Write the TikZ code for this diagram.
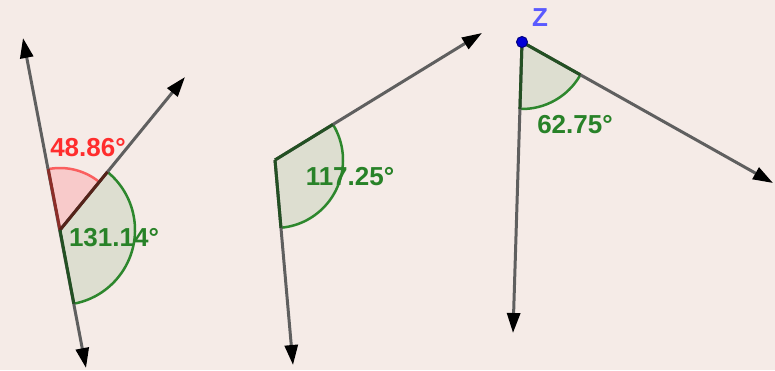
\documentclass[tikz,border=0pt]{standalone}
\usepackage{fontspec}
\setmainfont{Liberation Sans}
\usetikzlibrary{arrows.meta,angles,calc}

\definecolor{paper}{RGB}{245,235,231}
\definecolor{raygray}{RGB}{95,95,95}
\definecolor{anglegreen}{RGB}{45,135,45}
\definecolor{anglefill}{RGB}{221,222,208}
\definecolor{edgegreen}{RGB}{35,80,35}
\definecolor{anglered}{RGB}{250,95,95}
\definecolor{redfill}{RGB}{248,202,202}
\definecolor{edgered}{RGB}{140,45,40}
\definecolor{edgebrown}{RGB}{85,35,25}
\definecolor{labelred}{RGB}{255,45,45}
\definecolor{labelgreen}{RGB}{40,130,40}
\definecolor{pointblue}{RGB}{0,0,215}
\definecolor{labelblue}{RGB}{90,90,255}

\tikzset{
  ray/.style={raygray, line width=3pt, -{Triangle[length=20pt,width=13pt,black]}},
  fullline/.style={raygray, line width=3pt,
    {Triangle[length=20pt,width=13pt,black]}-{Triangle[length=20pt,width=13pt,black]}},
  greenangle/.style={draw=anglegreen, fill=anglefill, line width=2.5pt, angle radius=#1},
  redangle/.style={draw=anglered, fill=redfill, line width=2.5pt, angle radius=#1},
  edge/.style={line width=3pt, draw=#1},
  anglelabel/.style={font=\fontsize{26}{30}\selectfont\bfseries, inner sep=0pt, text=#1},
}

\begin{document}
\begin{tikzpicture}[x=1pt,y=1pt]
    % background and frame
    \fill[paper] (0,0) rectangle (775,-370);
    \useasboundingbox (0,0) rectangle (775,-370);

    % points of the three figures
    \coordinate (V1) at (60,-230);
    \coordinate (U1) at (23,-38);
    \coordinate (B1) at (86,-368);
    \coordinate (R1) at (185,-77);

    \coordinate (V2) at (275,-160);
    \coordinate (R2) at (482,-33);
    \coordinate (D2) at (293,-365);

    \coordinate (Z) at (522,-42);
    \coordinate (D3) at (513,-333);
    \coordinate (R3) at (773,-183);

    % angle sectors
    \pic[redangle=62pt] {angle = R1--V1--U1};
    \pic[greenangle=75pt] {angle = B1--V1--R1};
    \pic[greenangle=68pt] {angle = D2--V2--R2};
    \pic[greenangle=67pt] {angle = D3--Z--R3};

    % labels
    \node[anglelabel=labelred] (a1) at (88,-148) {48.86°};
    \node[anglelabel=labelgreen] (a2) at (114,-238) {131.14°};
    \node[anglelabel=labelgreen] (a3) at (350,-177) {117.25°};
    \node[anglelabel=labelgreen] (a4) at (575,-125) {62.75°};

    % lines and rays
    \draw[fullline] (U1) -- (B1);
    \draw[ray] (V1) -- (R1);
    \draw[ray] (V2) -- (R2);
    \draw[ray] (V2) -- (D2);
    \draw[ray] (Z) -- (D3);
    \draw[ray] (Z) -- (R3);

    % darker sides of the sectors
    \draw[edge=edgered] (V1) -- ($(V1)!62pt!(U1)$);
    \draw[edge=edgebrown] (V1) -- ($(V1)!75pt!(R1)$);
    \draw[edge=edgegreen] (V1) -- ($(V1)!75pt!(B1)$);
    \draw[edge=edgegreen] (V2) -- ($(V2)!68pt!(R2)$);
    \draw[edge=edgegreen] (V2) -- ($(V2)!68pt!(D2)$);
    \draw[edge=edgegreen] (Z) -- ($(Z)!67pt!(R3)$);
    \draw[edge=edgegreen] (Z) -- ($(Z)!67pt!(D3)$);

    % the point Z
    \fill[pointblue, draw=blue!50!black, line width=1pt] (Z) circle (5.5pt);
    \node[anglelabel=labelblue] (zlabel) at (540,-18) {Z};
\end{tikzpicture}
\end{document}
